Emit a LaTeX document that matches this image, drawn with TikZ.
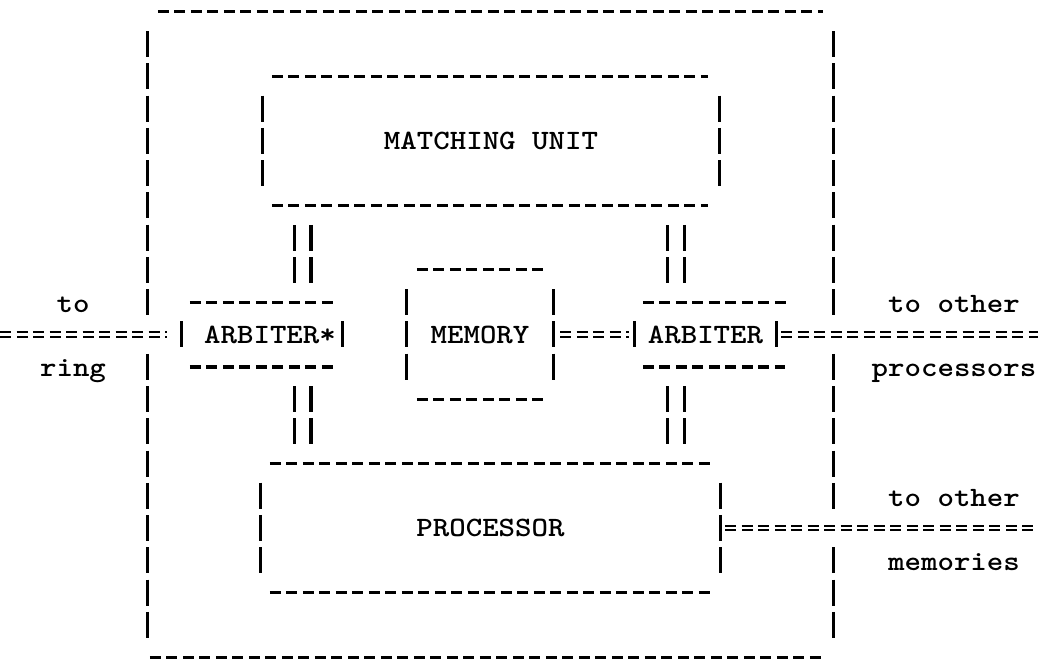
\documentclass[tikz,border=0pt]{standalone}
\usepackage{fontspec}
\usetikzlibrary{calc}

% typewriter face: heavy Latin Modern Mono, widened to the page pitch
\newfontfamily\typerfam{lmmonolt10-bold.otf}[FakeStretch=1.12]
\newcommand\typer{\typerfam\fontsize{28}{30}\selectfont}

\tikzset{
  ink/.style={draw=black, line width=3.1pt},
  hdash/.style={ink, dash pattern=on 11pt off 5.5pt},
  vbar/.style={ink, dash pattern=on 26pt off 6.25pt},
  eqline/.style={draw=black, line width=2.2pt, double=white, double distance=2.4pt,
                 dash pattern=on 11pt off 5.5pt},
  vconn/.style={draw=black, line width=3.2pt, double=white, double distance=13.6pt,
                dash pattern=on 26pt off 6.25pt, shorten <=19.25pt, shorten >=19.25pt},
  tt/.style={font=\typer, inner sep=0pt},
  unit/.style={tt, minimum width=#1},
  tall/.style={minimum height=129pt},
  short/.style={minimum height=64.5pt}
}

% typed frame of a box: dashes on top and bottom rows, bars on the rows between
% #1 node, #2/#3 top dash insets (left/right), #4/#5 bottom dash insets
\newcommand\tyframe[5]{%
  \draw[hdash] ($(#1.north west)+(#2,0)$) -- ($(#1.north east)+(#3,0)$);
  \draw[hdash] ($(#1.south west)+(#4,0)$) -- ($(#1.south east)+(#5,0)$);
  \draw[vbar] ($(#1.north west)+(0,19.25)$) -- ($(#1.south west)+(0,-19.25)$);
  \draw[vbar] ($(#1.north east)+(0,19.25)$) -- ($(#1.south east)+(0,-19.25)$);
}

\begin{document}
\begin{tikzpicture}[x=1pt, y=-1pt]
\useasboundingbox (0,0) rectangle (1038,661);

% boxes
\node[minimum width=685pt, minimum height=645pt, inner sep=0pt] (outer) at (490.5,334.5) {};
\node[unit=456pt, tall] (mu)   at (491,141)     {MATCHING UNIT};
\node[unit=160pt, short] (arbL) at (262,334.5)  {\hspace*{16pt}ARBITER*};
\node[unit=146pt, tall] (mem)  at (480,334.5)   {MEMORY};
\node[unit=141pt, short] (arbR) at (705.5,334.5) {ARBITER};
\node[unit=459pt, tall] (proc) at (490.5,528)   {PROCESSOR};

% outer frame, its sides broken where the buses pass through
\draw[hdash] ($(outer.north west)+(10,0)$) -- ($(outer.north east)+(-10,0)$);
\draw[hdash] ($(outer.south west)+(2,0)$) -- ($(outer.south east)+(-10,0)$);
\draw[vbar] ($(outer.north west)+(0,19.25)$) -- ($(outer.west)+(0,-19.25)$);
\draw[vbar] ($(outer.west)+(0,19.25)$) -- ($(outer.south west)+(0,-19.25)$);
\draw[vbar] ($(outer.north east)+(0,19.25)$) -- ($(outer.east)+(0,-19.25)$);
\draw[vbar] ($(outer.east)+(0,19.25)$) -- ($(outer.east)+(0,174.25)$);
\draw[vbar] ($(outer.east)+(0,212.75)$) -- ($(outer.south east)+(0,-19.25)$);

% inner frames
\tyframe{mu}{9}{-11}{9}{-11}
\tyframe{arbL}{8}{-9}{8}{-9}
\tyframe{mem}{10}{-8}{10}{-8}
\tyframe{arbR}{8}{14}{8}{9}
\tyframe{proc}{9}{-7}{9}{-7}

% vertical double links
\draw[vconn] ($(arbL.north |- mu.south)+(40.5,0)$) -- ($(arbL.north)+(40.5,0)$);
\draw[vconn] ($(arbR.north |- mu.south)+(-29.5,0)$) -- ($(arbR.north)+(-29.5,0)$);
\draw[vconn] ($(arbL.south)+(40.5,0)$) -- ($(arbL.south |- proc.north)+(40.5,0)$);
\draw[vconn] ($(arbR.south)+(-29.5,0)$) -- ($(arbR.south |- proc.north)+(-29.5,0)$);

% horizontal buses
\coordinate (ringend) at (0,334.5);
\coordinate (procsend) at (1038,334.5);
\coordinate (memsend) at (1038,528);
\draw[eqline, shorten >=15pt] (ringend) -- (arbL.west);
\draw[eqline, shorten <=7pt, shorten >=6pt] (mem.east) -- (arbR.west);
\draw[eqline, shorten <=5pt] (arbR.east) -- (procsend);
\draw[eqline, shorten <=5pt] (proc.east) -- (memsend);

% bus labels
\node[tt, anchor=base] (toring) at (73,312) {to};
\node[tt, anchor=base] (ring)   at (73,376) {ring};
\node[tt, anchor=base] (toproc) at (954,312) {to other};
\node[tt, anchor=base] (procs)  at (954,376) {processors};
\node[tt, anchor=base] (tomem)  at (954,506) {to other};
\node[tt, anchor=base] (mems)   at (954,570) {memories};
\end{tikzpicture}
\end{document}
